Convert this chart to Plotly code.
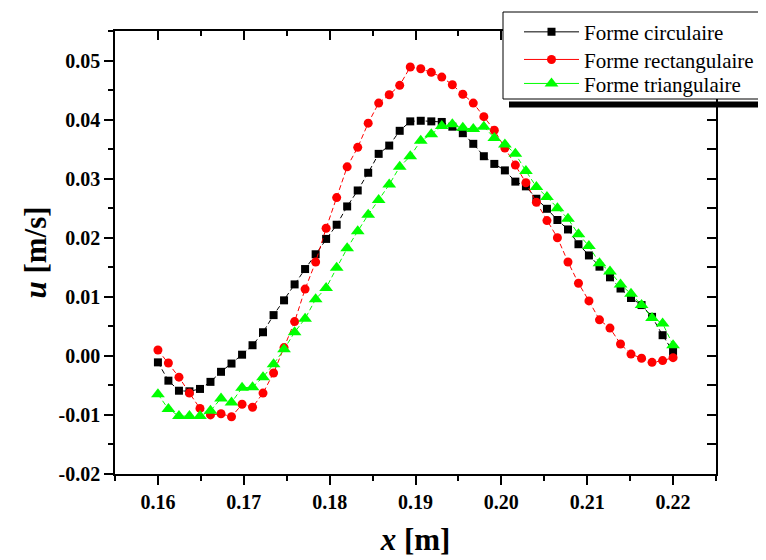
import plotly.graph_objects as go

# ---- data ----
x_m = [0.16, 0.16122, 0.16245, 0.16367, 0.1649, 0.16612, 0.16735, 0.16857, 0.1698, 0.17102,
       0.17224, 0.17347, 0.17469, 0.17592, 0.17714, 0.17837, 0.17959, 0.18082, 0.18204, 0.18327,
       0.18449, 0.18571, 0.18694, 0.18816, 0.18939, 0.19061, 0.19184, 0.19306, 0.19429, 0.19551,
       0.19673, 0.19796, 0.19918, 0.20041, 0.20163, 0.20286, 0.20408, 0.20531, 0.20653, 0.20776,
       0.20898, 0.2102, 0.21143, 0.21265, 0.21388, 0.2151, 0.21633, 0.21755, 0.21878, 0.22]

u_circulaire = [-0.0011, -0.0042, -0.0059, -0.0060, -0.0056, -0.0044, -0.0027, -0.0013, 0.0002, 0.0018,
                0.0040, 0.0069, 0.0094, 0.0121, 0.0147, 0.0172, 0.0198, 0.0222, 0.0253, 0.0280,
                0.0310, 0.0342, 0.0356, 0.0381, 0.0397, 0.0398, 0.0397, 0.0396, 0.0388, 0.0377,
                0.0359, 0.0338, 0.0325, 0.0314, 0.0295, 0.0287, 0.0266, 0.0249, 0.0230, 0.0214,
                0.0189, 0.0170, 0.0151, 0.0133, 0.0114, 0.0098, 0.0086, 0.0066, 0.0035, 0.0007]

u_rectangulaire = [0.0010, -0.0012, -0.0036, -0.0063, -0.0089, -0.0100, -0.0098, -0.0103, -0.0082, -0.0087,
                   -0.0063, -0.0029, 0.0014, 0.0058, 0.0113, 0.0159, 0.0216, 0.0268, 0.0320, 0.0353,
                   0.0394, 0.0428, 0.0442, 0.0458, 0.0489, 0.0486, 0.0480, 0.0472, 0.0459, 0.0443,
                   0.0428, 0.0405, 0.0382, 0.0352, 0.0323, 0.0293, 0.0260, 0.0229, 0.0200, 0.0159,
                   0.0123, 0.0093, 0.0061, 0.0047, 0.0020, 0.0003, -0.0004, -0.0011, -0.0008, -0.0003]

u_triangulaire = [-0.0065, -0.0090, -0.0102, -0.0102, -0.0102, -0.0093, -0.0072, -0.0079, -0.0054, -0.0053,
                  -0.0036, -0.0014, 0.0011, 0.0040, 0.0063, 0.0096, 0.0115, 0.0149, 0.0182, 0.0211,
                  0.0239, 0.0264, 0.0290, 0.0320, 0.0338, 0.0364, 0.0375, 0.0389, 0.0392, 0.0386,
                  0.0384, 0.0388, 0.0369, 0.0358, 0.0342, 0.0313, 0.0286, 0.0269, 0.0250, 0.0232,
                  0.0206, 0.0186, 0.0157, 0.0143, 0.0121, 0.0105, 0.0086, 0.0064, 0.0055, 0.0018]

series_names = ["Forme circulaire", "Forme rectangulaire", "Forme triangulaire"]

x_tick_vals = [0.16, 0.17, 0.18, 0.19, 0.20, 0.21, 0.22]
x_tick_text = ["0.16", "0.17", "0.18", "0.19", "0.20", "0.21", "0.22"]
y_tick_vals = [-0.02, -0.01, 0.00, 0.01, 0.02, 0.03, 0.04, 0.05]
y_tick_text = ["-0.02", "-0.01", "0.00", "0.01", "0.02", "0.03", "0.04", "0.05"]

# ---- layout geometry (page pixels; the page body adds an 8px offset) ----
FONT = "Liberation Serif"
OFF = 8
W, H = 766 - OFF, 560 - OFF
PL, PR, PT, PB = 115, 716, 31, 474          # plot box in page pixels
ML, MR, MT, MB = PL - OFF, 766 - PR, PT - OFF, 560 - PB


def px_x(p):
    return (p - PL) / (PR - PL)


def px_y(p):
    return (PB - p) / (PB - PT)


styles = [
    dict(color="#000000", symbol="square", size=8),
    dict(color="#FF0000", symbol="circle", size=9),
    dict(color="#00FF00", symbol="triangle-up", size=12),
]
series = [u_circulaire, u_rectangulaire, u_triangulaire]
legend_ids = ["legend", "legend2", "legend3"]
legend_rows = [31.7, 59.3, 83.3]   # page y of each legend row centre

fig = go.Figure()
for name, ys, st in zip(series_names, series, styles):
    fig.add_trace(go.Scatter(
        x=x_m, y=ys, mode="lines+markers", name=name, showlegend=False,
        line=dict(color=st["color"], width=1, dash="5px,3px"),
        marker=dict(color=st["color"], symbol=st["symbol"], size=st["size"], line=dict(width=0)),
    ))
# legend entries (solid line samples), one legend per row
for name, st, lid in zip(series_names, styles, legend_ids):
    fig.add_trace(go.Scatter(
        x=[None], y=[None], mode="lines+markers", name=name, legend=lid,
        line=dict(color=st["color"], width=1),
        marker=dict(color=st["color"], symbol=st["symbol"], size=st["size"], line=dict(width=0)),
    ))
# invisible trace to carry the mirrored top/right axes
fig.add_trace(go.Scatter(x=x_m, y=u_circulaire, xaxis="x2", yaxis="y2", mode="markers",
                         marker=dict(opacity=0), hoverinfo="skip", showlegend=False))

axis_common = dict(showline=True, linecolor="black", linewidth=1.5, showgrid=False,
                   zeroline=False, tickcolor="black", tickwidth=1.5)
tickfont = dict(family=FONT, size=20, color="black", weight="bold")

legend_layout = {}
for lid, row in zip(legend_ids, legend_rows):
    legend_layout[lid] = dict(x=px_x(519), y=px_y(row - 20), xanchor="left", yanchor="top",
                              bgcolor="rgba(0,0,0,0)", borderwidth=0, itemwidth=55,
                              font=dict(family=FONT, size=21, color="black"))

fig.update_layout(
    width=W, height=H,
    margin=dict(l=ML, r=MR, t=MT, b=MB, autoexpand=False),
    paper_bgcolor="white", plot_bgcolor="white",
    font=dict(family=FONT, color="black"),
    xaxis=dict(range=[0.155, 0.225], tickmode="array", tickvals=x_tick_vals, ticktext=x_tick_text,
               ticks="outside", ticklen=9, tickfont=tickfont,
               minor=dict(dtick=0.005, tick0=0.155, ticks="outside", ticklen=5, tickwidth=1.5, tickcolor="black"),
               title=dict(text="<b><i>x</i> [m]</b>", font=dict(family=FONT, size=31, color="black"), standoff=17),
               **axis_common),
    yaxis=dict(range=[-0.02, 0.055], tickmode="array", tickvals=y_tick_vals, ticktext=y_tick_text,
               ticks="outside", ticklen=9, tickfont=tickfont,
               minor=dict(dtick=0.005, tick0=0, ticks="outside", ticklen=5, tickwidth=1.5, tickcolor="black"),
               title=dict(text="<b><i>u</i> [m/s]</b>", font=dict(family=FONT, size=31, color="black"), standoff=3),
               **axis_common),
    xaxis2=dict(range=[0.155, 0.225], overlaying="x", side="top", anchor="y2",
                tickmode="array", tickvals=x_tick_vals, ticks="inside", ticklen=9, showticklabels=False,
                minor=dict(dtick=0.005, tick0=0.155, ticks="inside", ticklen=5, tickwidth=1.5, tickcolor="black"),
                **axis_common),
    yaxis2=dict(range=[-0.02, 0.055], overlaying="y", side="right", anchor="x2",
                tickmode="array", tickvals=y_tick_vals, ticks="inside", ticklen=9, showticklabels=False,
                minor=dict(dtick=0.005, tick0=0, ticks="inside", ticklen=9, tickwidth=1.5, tickcolor="black"),
                **axis_common),
    shapes=[
        dict(type="rect", xref="paper", yref="paper", layer="above",
             x0=px_x(509), x1=px_x(800), y0=px_y(107.5), y1=px_y(101.5),
             fillcolor="black", line=dict(width=0)),
        dict(type="rect", xref="paper", yref="paper", layer="above",
             x0=px_x(503), x1=px_x(800), y0=px_y(99), y1=px_y(12),
             fillcolor="white", line=dict(color="black", width=1)),
    ],
    **legend_layout,
)

fig.write_html("out.html")
